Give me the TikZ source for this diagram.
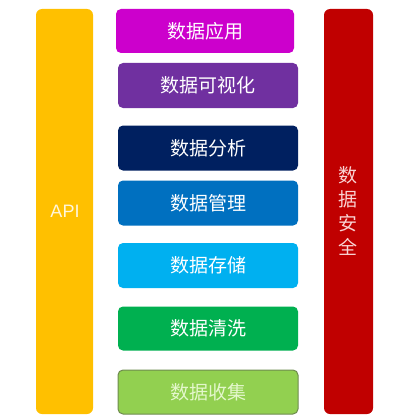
\documentclass[tikz,border=0pt]{standalone}
\usepackage{fontspec}
\newfontfamily\cjk{Noto Sans CJK SC}
\setsansfont{Liberation Sans}
\definecolor{apiyellow}{HTML}{FFC000}
\definecolor{secred}{HTML}{C00000}
\definecolor{cmag}{HTML}{CC00CC}
\definecolor{cpurple}{HTML}{7030A0}
\definecolor{cnavy}{HTML}{002060}
\definecolor{cblue}{HTML}{0070C0}
\definecolor{clblue}{HTML}{00B0F0}
\definecolor{cgreen}{HTML}{00B050}
\definecolor{clgreen}{HTML}{92D050}
\definecolor{cborder}{HTML}{6E8B4E}
\definecolor{ctxtgreen}{HTML}{E4F7CC}
\definecolor{ctxtpink}{HTML}{F9D4D4}
\definecolor{ctxtcream}{HTML}{FFF6DC}
\tikzset{
  layer/.style={rounded corners=5pt, inner sep=0pt, minimum width=180pt, minimum height=45pt, text=white, font=\cjk\fontsize{19}{22}\selectfont},
  bar/.style={rounded corners=6pt, inner sep=0pt}
}
\begin{document}
\begin{tikzpicture}[x=1pt,y=-1pt]
\useasboundingbox (0,0) rectangle (400,420);
\fill[white] (0,0) rectangle (400,420);
% side bars
\node[bar, fill=apiyellow, minimum width=57pt, minimum height=405pt] (api) at (64.5,211.5) {};
\node[text=ctxtcream, font=\sffamily\fontsize{18}{21}\selectfont] (apitxt) at (65,211) {API};
\node[bar, fill=secred, minimum width=49pt, minimum height=405pt] (sec) at (348.5,211.5) {};
\node[text=ctxtpink, font=\cjk\fontsize{19}{24}\selectfont, align=center, inner sep=0pt] (sectxt) at (348,211) {数\\据\\安\\全};
% layers
\node[layer, fill=cmag, minimum width=178pt, minimum height=44pt] (app) at (205,31) {数据应用};
\node[layer, fill=cpurple] (vis) at (208,85.5) {数据可视化};
\node[layer, fill=cnavy] (ana) at (208,148) {数据分析};
\node[layer, fill=cblue] (mgt) at (208,203) {数据管理};
\node[layer, fill=clblue] (sto) at (208,265.5) {数据存储};
\node[layer, fill=cgreen, minimum height=44pt] (cln) at (208,328.5) {数据清洗};
\node[layer, fill=clgreen, draw=cborder, line width=1pt, text=ctxtgreen, minimum height=44pt] (col) at (208,392) {数据收集};
\end{tikzpicture}
\end{document}
